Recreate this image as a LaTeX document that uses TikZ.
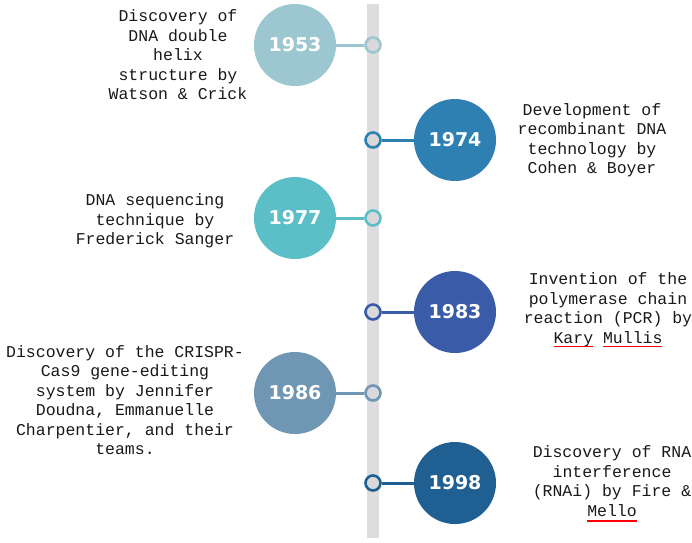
\documentclass[tikz,border=0pt]{standalone}
\usepackage{fontspec}
\setmonofont{Liberation Mono}
\setsansfont{DejaVu Sans}
\usepackage{tikz}
\usetikzlibrary{positioning}

\definecolor{barGray}{HTML}{DDDDE0}
\definecolor{ringFill}{HTML}{D9D9DB}
\definecolor{cA}{HTML}{9CC6D0}
\definecolor{cB}{HTML}{2E80B2}
\definecolor{cC}{HTML}{5CBEC6}
\definecolor{cD}{HTML}{3A5CA8}
\definecolor{cE}{HTML}{6F96B2}
\definecolor{cF}{HTML}{1F5F91}
\newcommand{\redul}[1]{{\setbox0\hbox{#1}\rlap{\textcolor{red}{\rule[-4pt]{\wd0}{1.5pt}}}\box0}}

\begin{document}
\begin{tikzpicture}[x=1pt,y=-1pt,
    year/.style={circle,minimum size=82pt,inner sep=0pt,text=white,font=\sffamily\bfseries\fontsize{19}{19}\selectfont},
    ring/.style={circle,fill=ringFill,line width=2.6pt,minimum size=15pt,inner sep=0pt},
    note/.style={align=center,font=\ttfamily\fontsize{16.5}{19.5}\selectfont\color{black!90}}]
    \useasboundingbox (0,0) rectangle (692,542);
    \fill [barGray] (367,4) rectangle (379,538);

    \node [year,fill=cA] (y1953) at (295,45) {1953};
    \node [ring,draw=cA] (r1953) at (373,45) {};
    \draw [cA,line width=3pt] (y1953) -- (r1953);
    \node [note] (t1953) at (178,55) {Discovery of\\DNA double\\helix\\structure by\\Watson \& Crick};

    \node [year,fill=cB] (y1974) at (455,140) {1974};
    \node [ring,draw=cB] (r1974) at (373,140) {};
    \draw [cB,line width=3pt] (y1974) -- (r1974);
    \node [note] (t1974) at (592,140) {Development of\\recombinant DNA\\technology by\\Cohen \& Boyer};

    \node [year,fill=cC] (y1977) at (295,218) {1977};
    \node [ring,draw=cC] (r1977) at (373,218) {};
    \draw [cC,line width=3pt] (y1977) -- (r1977);
    \node [note] (t1977) at (155,221) {DNA sequencing\\technique by\\Frederick Sanger};

    \node [year,fill=cD] (y1983) at (455,312) {1983};
    \node [ring,draw=cD] (r1983) at (373,312) {};
    \draw [cD,line width=3pt] (y1983) -- (r1983);
    \node [note] (t1983) at (608,310) {Invention of the\\polymerase chain\\reaction (PCR) by\\\redul{Kary}\ \redul{Mullis}};

    \node [year,fill=cE] (y1986) at (295,393) {1986};
    \node [ring,draw=cE] (r1986) at (373,393) {};
    \draw [cE,line width=3pt] (y1986) -- (r1986);
    \node [note] (t1986) at (125,400) {Discovery of the CRISPR-\\Cas9 gene-editing\\system by Jennifer\\Doudna, Emmanuelle\\Charpentier, and their\\teams.};

    \node [year,fill=cF] (y1998) at (455,483) {1998};
    \node [ring,draw=cF] (r1998) at (373,483) {};
    \draw [cF,line width=3pt] (y1998) -- (r1998);
    \node [note] (t1998) at (612,481) {Discovery of RNA\\interference\\(RNAi) by Fire \&\\Mello};
    \draw [red,line width=1.5pt] ([xshift=-25pt,yshift=-1pt]t1998.south) -- ++(50,0);
\end{tikzpicture}
\end{document}
